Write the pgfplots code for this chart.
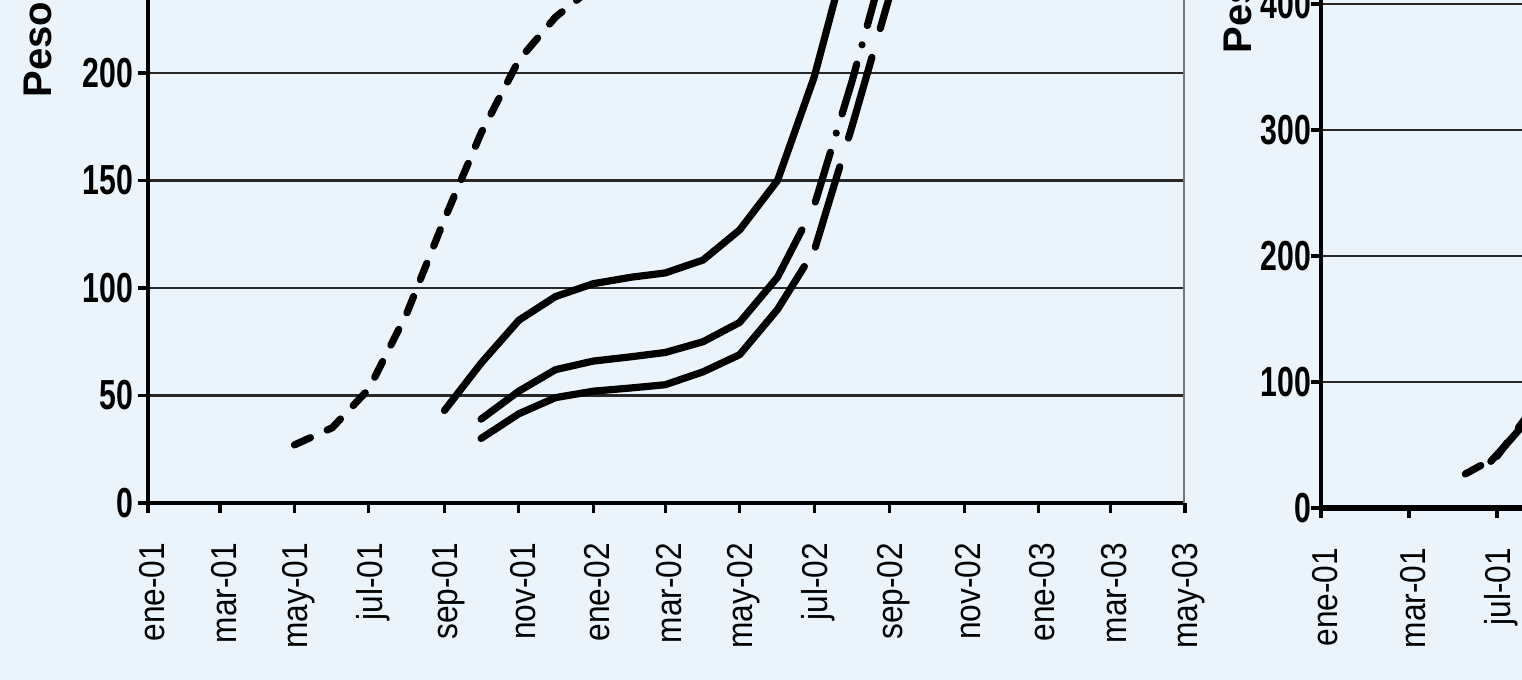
\documentclass[border=0pt]{standalone}
\usepackage{pgfplots}
\pgfplotsset{compat=1.18}
\usepackage{pgfplotstable}
\usepackage{fontspec}
\setmainfont{Liberation Sans}
\newfontfamily\narrowfont[FakeStretch=0.88]{Liberation Sans}
\newfontfamily\condfont[FakeStretch=0.72]{Liberation Sans}
\definecolor{bgblue}{RGB}{234,244,250}
\definecolor{gridc}{RGB}{40,40,40}
\definecolor{rborder}{RGB}{120,120,120}

% x = days since 1 Jan 2001
\pgfplotstableread{
d v
120 27
151 35
181 53
212 88
243 132
273 172
304 206
334 226
365 240
396 250
}\serA
\pgfplotstableread{
d v
243 43
273 65
304 85
334 96
365 102
396 105
424 107
455 113
485 127
516 150
546 198
577 264
}\serB
\pgfplotstableread{
d v
273 39
304 52
334 62
365 66
396 68
424 70
455 75
485 84
516 105
536 127
}\serCsolid
\pgfplotstableread{
d v
547 140
577 196
608 260
}\serCdash
\pgfplotstableread{
d v
273 30
304 41.5
334 49
365 52
396 53.5
424 55
455 61
485 69
516 90
538 110
}\serDsolid
\pgfplotstableread{
d v
547 119
577 175
608 236
639 300
}\serDdash
\pgfplotstableread{
x v
1.64 27
1.85 35
2.00 41
2.30 69
2.60 100
}\serE
\pgfplotstableread{
x v
1.93 37
2.10 50
2.30 66
2.60 97
}\serF

\pgfplotsset{
  chartbase/.style={
    scale only axis,
    axis x line*=bottom, axis y line*=left,
    x axis line style={black, line width=1.1pt, -},
    y axis line style={black, line width=0.8pt, -},
    tick align=outside,
    major tick length=2.5pt,
    tick style={black, line width=0.8pt},
    ymajorgrids,
    major grid style={gridc, line width=0.6pt},
    /pgf/number format/assume math mode=true,
    yticklabel style={font=\condfont\bfseries\fontsize{10.5}{12}\selectfont, inner sep=1pt},
    xticklabel style={font=\narrowfont\fontsize{9}{10}\selectfont, yshift=-6.25pt, xshift=1pt, rotate=90, anchor=east, inner sep=1pt},
    clip=true,
  },
  solidser/.style={black, line width=1.8pt, line join=round, line cap=round, no marks},
  shortdash/.style={black, line width=1.8pt, line cap=round, dash pattern=on 4.4pt off 4.6pt, no marks},
  dashdotser/.style={black, line width=1.8pt, line cap=round, dash pattern=on 13pt off 5pt on 0pt off 5pt, no marks},
  longdash/.style={black, line width=1.8pt, line cap=round, dash pattern=on 21pt off 7.5pt, no marks},
}

\begin{document}
\begin{tikzpicture}
\path[use as bounding box] (0,0) rectangle (380.5pt,170pt);
\clip (0,0) rectangle (380.5pt,170pt);
\fill[bgblue] (0,0) rectangle (380.5pt,170pt);

\begin{axis}[chartbase,
  at={(37pt,44.25pt)}, anchor=south west,
  width=259.25pt, height=134.375pt,
  xmin=0, xmax=850, ymin=0, ymax=250,
  ytick={0,50,100,150,200},
  xtick={0,59,120,181,243,304,365,424,485,546,608,669,730,789,850},
  xticklabels={ene-01,mar-01,may-01,jul-01,sep-01,nov-01,ene-02,mar-02,may-02,jul-02,sep-02,nov-02,ene-03,mar-03,may-03},
]
\addplot[shortdash] table[x=d,y=v] {\serA};
\addplot[solidser] table[x=d,y=v] {\serB};
\addplot[solidser] table[x=d,y=v] {\serCsolid};
\addplot[dashdotser] table[x=d,y=v] {\serCdash};
\addplot[solidser] table[x=d,y=v] {\serDsolid};
\addplot[longdash] table[x=d,y=v] {\serDdash};
\draw[rborder, line width=0.8pt] (rel axis cs:1,0) -- (rel axis cs:1,1);
\end{axis}

\begin{axis}[chartbase,
  at={(330.25pt,43pt)}, anchor=south west,
  width=110pt, height=141.75pt,
  xmin=0, xmax=5, ymin=0, ymax=450,
  ytick={0,100,200,300,400},
  xtick={0,1,2},
  xticklabels={ene-01,mar-01,jul-01},
  x axis line style={black, line width=1.3pt, -},
  yticklabel style={xshift=1.25pt},
]
\addplot[shortdash] table[x=x,y=v] {\serE};
\addplot[longdash] table[x=x,y=v] {\serF};
\end{axis}

\node[rotate=90, anchor=west, inner sep=0pt, font=\bfseries\fontsize{10}{12}\selectfont] at (9.5pt,145.5pt) {Peso};
\node[rotate=90, anchor=west, inner sep=0pt, font=\bfseries\fontsize{10}{12}\selectfont] at (309.5pt,156.5pt) {Peso};
\end{tikzpicture}
\end{document}
